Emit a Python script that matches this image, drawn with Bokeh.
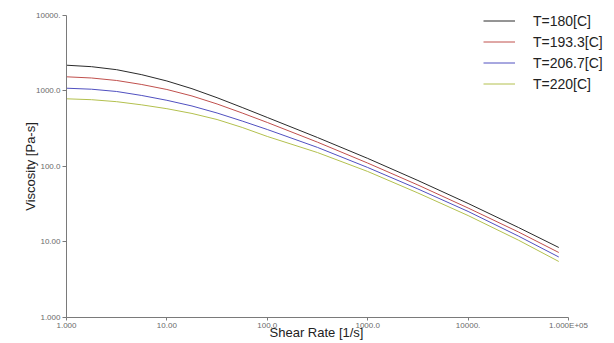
import math
from bokeh.plotting import figure
from bokeh.models import FixedTicker, Legend, LegendItem, Label
from bokeh.embed import file_html
from bokeh.resources import INLINE

# ---- data ----
shear_rate = [1.0, 1.778, 3.162, 5.623, 10.0, 17.78, 31.62, 56.23, 100.0,
              316.2, 1000.0, 3162.0, 10000.0, 31620.0, 80000.0]
visc_180 = [2196, 2099, 1915, 1644, 1357, 1073, 815, 605, 446, 242, 128, 65.3, 32.4, 15.6, 8.46]
visc_193 = [1542, 1487, 1378, 1219, 1047, 859, 673, 511, 383, 210, 111, 56.9, 28.2, 13.6, 7.26]
visc_207 = [1089, 1056, 985, 872, 753, 633, 511, 400, 309, 179, 97.0, 50.4, 25.4, 12.0, 6.33]
visc_220 = [788, 767, 722, 655, 583, 504, 419, 329, 250, 153, 85.9, 44.6, 22.4, 10.6, 5.52]
series_names = ["T=180[C]", "T=193.3[C]", "T=206.7[C]", "T=220[C]"]
series_colors = ["#2a2a2a", "#c0504d", "#5050c0", "#b3c04e"]

x_ticks = [1, 10, 100, 1000, 10000, 100000]
x_tick_labels = ["1.000", "10.00", "100.0", "1000.0", "10000.", "1.000E+05"]
y_ticks = [1, 10, 100, 1000, 10000]
y_tick_labels = ["1.000", "10.00", "100.0", "1000.0", "10000."]
x_title = "Shear Rate [1/s]"
y_title = "Viscosity [Pa-s]"

FONT = "Liberation Sans"

# The frame fills the whole canvas; the axes are pinned at x=1 / y=1 and
# bounded to the plotted decades, so nothing (legend, titles) gets clipped.
p = figure(width=614, height=343, x_axis_type="log", y_axis_type="log",
           x_range=(0.2203, 287100), y_range=(0.4525, 15800),
           output_backend="svg", toolbar_location=None,
           min_border_left=0, min_border_right=0, min_border_top=0, min_border_bottom=0)
p.outline_line_color = None
p.xgrid.visible = False
p.ygrid.visible = False
p.background_fill_color = "white"
p.border_fill_color = "white"

for ax, ticks, labels in ((p.xaxis[0], x_ticks, x_tick_labels), (p.yaxis[0], y_ticks, y_tick_labels)):
    ax.ticker = FixedTicker(ticks=ticks)
    ax.bounds = (ticks[0], ticks[-1])
    ax.major_label_overrides = {t: l for t, l in zip(ticks, labels)}
    ax.axis_line_color = "#7a7a7a"
    ax.major_tick_line_color = "#7a7a7a"
    ax.major_tick_in = 0
    ax.minor_tick_line_color = None
    ax.major_label_text_font = FONT
    ax.major_label_text_font_size = "8px"
    ax.major_label_text_color = "#6a6a6a"

p.xaxis[0].fixed_location = y_ticks[0]
p.yaxis[0].fixed_location = x_ticks[0]
p.xaxis[0].major_tick_out = 3
p.xaxis[0].major_label_standoff = 1
p.yaxis[0].major_tick_out = 4
p.yaxis[0].major_label_standoff = 2

items = []
for name, vals, col in zip(series_names, [visc_180, visc_193, visc_207, visc_220], series_colors):
    r = p.line(shear_rate, vals, line_color=col, line_width=1)
    items.append(LegendItem(label=name, renderers=[r]))

legend = Legend(items=items, location=(483, 249), orientation="vertical",
                border_line_color=None, background_fill_alpha=0,
                padding=0, margin=0, spacing=0,
                glyph_width=32, glyph_height=21, label_height=21,
                label_standoff=18, label_text_font=FONT,
                label_text_font_size="14px", label_text_color="#222222")
p.add_layout(legend)

p.add_layout(Label(x=316, y=11, x_units="screen", y_units="screen",
                   text=x_title, text_align="center", text_baseline="alphabetic",
                   text_font=FONT, text_font_size="13px", text_color="#222222"))
p.add_layout(Label(x=30, y=177, x_units="screen", y_units="screen",
                   text=y_title, angle=math.pi / 2,
                   text_align="center", text_baseline="alphabetic",
                   text_font=FONT, text_font_size="13px", text_color="#222222"))

open("out.html", "w").write(file_html(p, INLINE))
